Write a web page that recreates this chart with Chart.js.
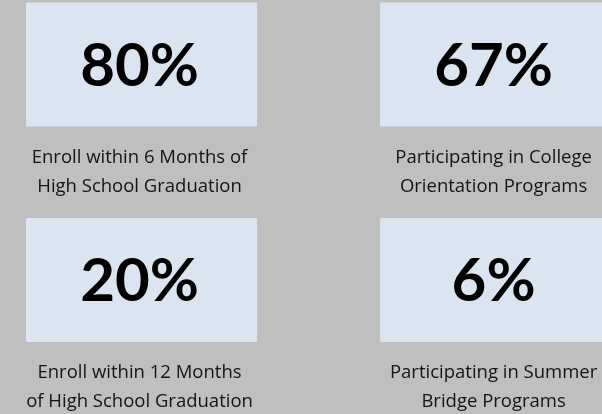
<!DOCTYPE html>
<html>
<head>
<meta charset="utf-8">
<script src="https://cdn.jsdelivr.net/npm/chart.js@4"></script>
<style>
    html, body { margin: 0; padding: 0; background: #bfbfbf; }
    #wrap { width: 602px; height: 414px; }
</style>
</head>
<body>
<div id="wrap"><canvas id="stats"></canvas></div>
<script>
// Stat values (percent) and their captions, read left-to-right, top-to-bottom
const values = [80, 67, 20, 6];
const captions = [
    ['Enroll within 6 Months of', 'High School Graduation'],
    ['Participating in College', 'Orientation Programs'],
    ['Enroll within 12 Months', 'of High School Graduation'],
    ['Participating in Summer', 'Bridge Programs']
];

// Draws a card with the big number and caption at each point
const cardPlugin = {
    id: 'cards',
    afterDatasetsDraw(chart) {
        const ctx = chart.ctx;
        const meta = chart.getDatasetMeta(0);
        const cardW = 231, cardH = 124;

        meta.data.forEach((pt, i) => {
            const left = pt.x - cardW / 2;
            const top = pt.y - cardH / 2;

            ctx.save();
            ctx.fillStyle = '#dbe5f1';
            ctx.fillRect(left, top, cardW, cardH);

            ctx.fillStyle = '#000';
            ctx.font = 'bold 60px Lato';
            ctx.textAlign = 'center';
            ctx.textBaseline = 'middle';
            ctx.fillText(values[i] + '%', pt.x - 2, pt.y + 2);

            // caption, clipped to the card width
            ctx.beginPath();
            ctx.rect(left, top + cardH, cardW, 100);
            ctx.clip();
            ctx.fillStyle = '#141414';
            ctx.font = '18.5px "Open Sans"';
            captions[i].forEach((line, j) => {
                ctx.fillText(line, pt.x - 2, top + cardH + 31 + j * 29);
            });
            ctx.restore();
        });
    }
};

const ctx = document.getElementById('stats').getContext('2d');
const statsChart = new Chart(ctx, {
    type: 'scatter',
    data: {
        datasets: [{
            data: values.map((v, i) => ({ x: i % 2, y: Math.floor(i / 2) })),
            pointRadius: 0
        }]
    },
    options: {
        responsive: true,
        maintainAspectRatio: false,
        animation: false,
        events: [],
        layout: { padding: 0 },
        plugins: {
            legend: { display: false },
            tooltip: { enabled: false }
        },
        scales: {
            x: { type: 'linear', display: false, min: -0.3997, max: 1.3005 },
            y: { type: 'linear', display: false, reverse: true, min: -0.2993, max: 1.6218 }
        }
    },
    plugins: [cardPlugin]
});
</script>
</body>
</html>
